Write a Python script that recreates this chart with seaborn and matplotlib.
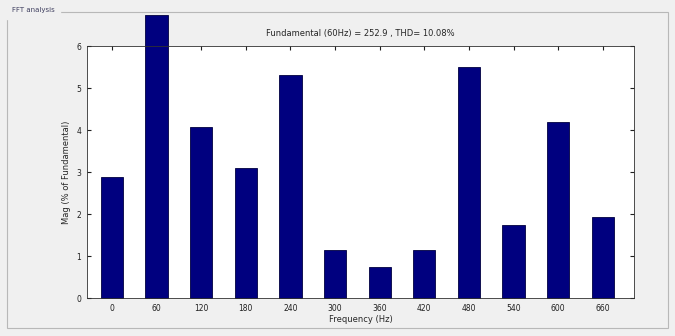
import seaborn as sns
import matplotlib.pyplot as plt
import pandas as pd
from matplotlib.patches import Rectangle

# harmonic frequencies (Hz) and magnitude in % of fundamental
freqs = ["0", "60", "120", "180", "240", "300", "360", "420", "480", "540", "600", "660"]
mags = [2.88, 6.75, 4.07, 3.1, 5.32, 1.14, 0.74, 1.14, 5.5, 1.75, 4.2, 1.93]

df = pd.DataFrame({"freq": freqs, "mag": mags})

sns.set_style("white")
plt.rcParams["font.family"] = ["DejaVu Sans"]

fig = plt.figure(figsize=(6.75, 3.36), dpi=100, facecolor="#f0f0f0")

# uipanel frame
fig.patches.append(Rectangle((7 / 675, 1 - 328 / 336), 661 / 675, 316 / 336,
                             transform=fig.transFigure, fill=False,
                             edgecolor="#b8b8b8", linewidth=0.8))
fig.text(12 / 675, 1 - 10 / 336, "FFT analysis", fontsize=5, color="#404060",
         va="center", ha="left", backgroundcolor="#f0f0f0")

ax = fig.add_axes([87 / 675, 1 - 298 / 336, 547 / 675, 252 / 336])
ax.set_facecolor("white")
sns.barplot(data=df, x="freq", y="mag", color="#00007f", saturation=1,
            width=0.5, edgecolor="#000040", linewidth=0.6, ax=ax)
for p in ax.patches:
    p.set_clip_on(False)

ax.set_ylim(0, 6)
ax.set_xlim(-0.56, 11.7)
ax.set_yticks(range(7))
ax.tick_params(direction="in", length=3, labelsize=5.5, colors="#202020",
               top=True, right=True, bottom=True, left=True, pad=4)
for s in ax.spines.values():
    s.set_visible(True)
    s.set_color("#303030")
    s.set_linewidth(0.6)

ax.set_xlabel("Frequency (Hz)", fontsize=6, labelpad=2)
ax.set_ylabel("Mag (% of Fundamental)", fontsize=6, labelpad=4)
ax.set_title("Fundamental (60Hz) = 252.9 , THD= 10.08%", fontsize=6, pad=7)

plt.savefig("out.png", dpi=100, facecolor=fig.get_facecolor())
